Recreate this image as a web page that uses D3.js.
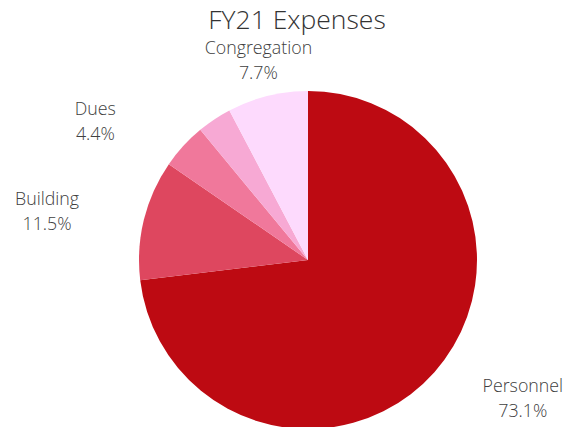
<!DOCTYPE html>
<html><head><meta charset="utf-8">
<script src="https://cdn.jsdelivr.net/npm/d3@7"></script>
<style>html,body{margin:0;padding:0;background:#fff;}</style>
</head><body>
<svg id="c" width="580" height="427"></svg>
<script>
const categories = ["Personnel", "Building", "Dues", "Other", "Congregation"];
const values = [73.1, 11.5, 4.4, 3.3, 7.7];
const colors = ["#bd0a12", "#de475f", "#f0789b", "#f7a9d4", "#fddafd"];
const title = "FY21 Expenses";

const svg = d3.select("#c");
const cx = 308, cy = 260, R = 169;
const data = categories.map((c, i) => ({name: c, value: values[i], color: colors[i]}));
const pie = d3.pie().sort(null).value(d => d.value);
const arcs = pie(data);
const arc = d3.arc().innerRadius(0).outerRadius(R);
const g = svg.append("g").attr("transform", `translate(${cx},${cy})`);
g.selectAll("path").data(arcs).join("path").attr("d", arc).attr("fill", d => d.data.color);

const font = "'Open Sans', sans-serif";
svg.append("text").attr("x", 297).attr("y", 29).attr("text-anchor", "middle")
  .attr("font-family", font).attr("font-weight", 300).attr("font-size", 26.5).attr("fill", "#333")
  .text(title);

const total = d3.sum(values);
const labelArc = d3.arc().innerRadius(207).outerRadius(207);
const lbl = g.selectAll("g.lbl").data(arcs.filter(d => d.data.value / total >= 0.04)).join("g");
lbl.each(function(d) {
  const [x, y] = labelArc.centroid(d);
  const mid = (d.startAngle + d.endAngle) / 2;
  const s = Math.sin(mid);
  const shift = Math.abs(s) > 0.5 ? Math.sign(s) * 60 : 0;
  const t = d3.select(this).append("text")
    .attr("text-anchor", "middle")
    .attr("font-family", font).attr("font-weight", 300).attr("font-size", 17.8).attr("fill", "#404040");
  t.append("tspan").attr("x", x + shift).attr("y", y - 5).text(d.data.name);
  t.append("tspan").attr("x", x + shift).attr("y", y + 20).text(d.data.value.toFixed(1) + "%");
});
</script>
</body></html>
